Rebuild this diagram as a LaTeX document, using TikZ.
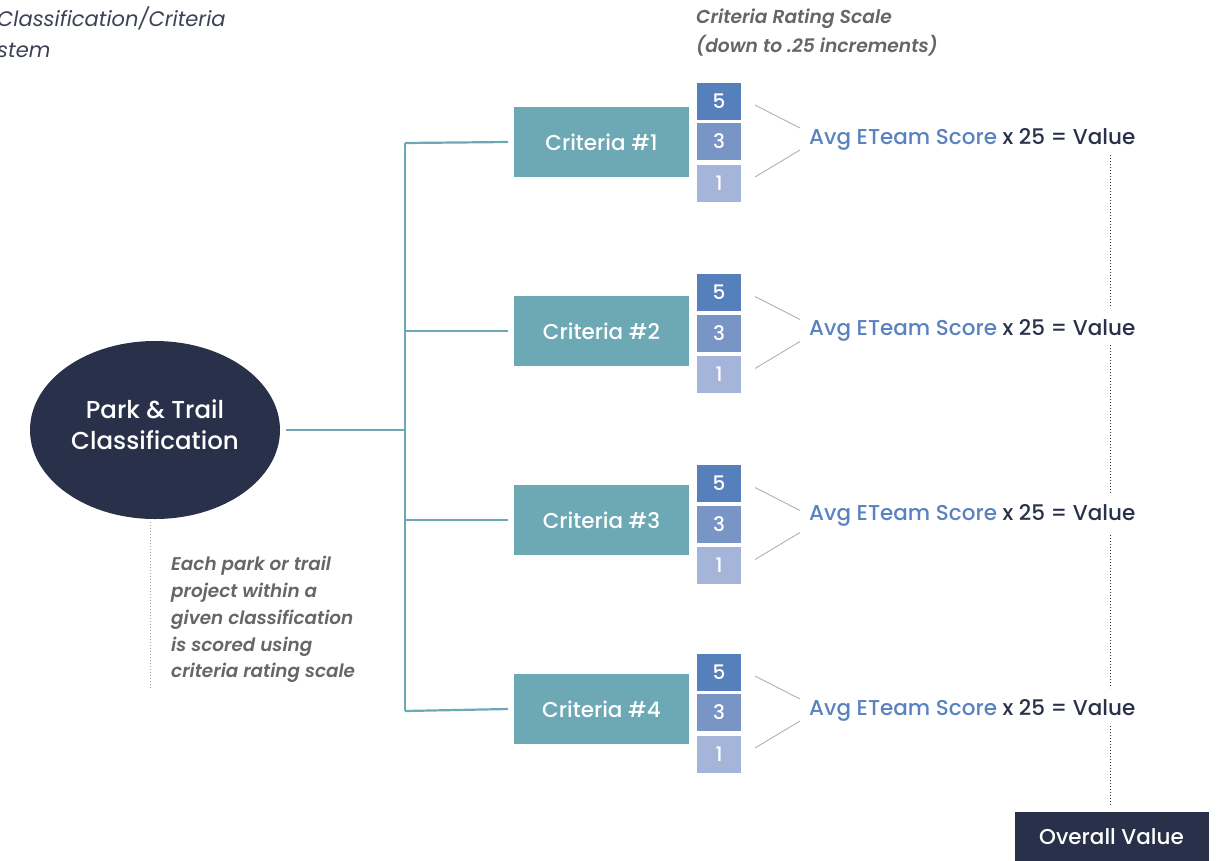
\documentclass[tikz,border=0pt]{standalone}
\usepackage{fontspec}
\setmainfont{Poppins}[UprightFont={* Medium}, ItalicFont={* Italic}, BoldFont={* SemiBold}, BoldItalicFont={* SemiBold Italic}]
\usetikzlibrary{shapes.geometric}
\definecolor{navy}{HTML}{283149}
\definecolor{teal}{HTML}{6DA8B5}
\definecolor{sfive}{HTML}{5580BB}
\definecolor{sthree}{HTML}{7895C6}
\definecolor{sone}{HTML}{A4B5D9}
\definecolor{avgblue}{HTML}{5A82BF}
\definecolor{note}{HTML}{666666}
\definecolor{titlegray}{HTML}{3C4256}
\definecolor{thin}{HTML}{A9B0BF}
\tikzset{
  branch/.style={draw=teal, line width=2.2pt},
  critbox/.style={fill=teal, minimum width=175pt, minimum height=70pt, text=white, font=\fontsize{21.5}{24}\selectfont, inner sep=0pt},
  sq/.style={minimum width=44pt, minimum height=37pt, inner sep=0pt, text=white, font=\fontsize{20}{22}\selectfont},
  feed/.style={draw=thin, line width=0.9pt},
  vdots/.style={draw=navy, line width=1pt, dotted},
  scoretext/.style={anchor=west, inner sep=0pt, font=\fontsize{21.5}{24}\selectfont},
  headtext/.style={anchor=west, inner sep=0pt, text=note, font=\fontsize{18.7}{20}\selectfont\bfseries\itshape},
}
\begin{document}
\begin{tikzpicture}[x=1pt,y=-1pt]
\useasboundingbox (0,0) rectangle (1224,860);

% page heading (runs off the left edge)
\node[anchor=west, inner sep=0pt, text=titlegray, font=\fontsize{21}{24}\selectfont\itshape] (head1) at (-3,18) {Classification/Criteria};
\node[anchor=west, inner sep=0pt, text=titlegray, font=\fontsize{21}{24}\selectfont\itshape] (head2) at (-3,50) {stem};

% rating scale heading
\node[headtext] (scale1) at (696,18.5) {Criteria Rating Scale};
\node[headtext] (scale2) at (696,45.5) {(down to .25 increments)};

% root classification
\node[ellipse, fill=navy, minimum width=250pt, minimum height=178pt, inner sep=0pt] (root) at (155,430) {};
\node[text=white, align=center, inner sep=0pt, font=\fontsize{24.5}{31}\selectfont] (rootlabel) at (155,425) {Park \& Trail\\Classification};

% note under the root
\coordinate (nt) at (150,522);
\coordinate (nb) at (150,688);
\draw[draw=gray!70, line width=1pt, dotted] (nt) -- (nb);
\node[anchor=north west, inner sep=0pt, text=note, align=left, font=\fontsize{18.4}{26.8}\selectfont\itshape\bfseries] (notetext) at (171,556) {Each park or trail\\project within a\\given classification\\is scored using\\criteria rating scale};

% trunk
\coordinate (jr) at (405,430);
\coordinate (t1) at (405,143);
\coordinate (t2) at (405,331);
\coordinate (t3) at (405,520);
\coordinate (t4) at (405,711);
\draw[branch] (root.east) ++(6,0) -- (jr);
\draw[branch] (t1) -- (t4);

% criteria rows
\foreach \i/\yc/\ys/\yt in {1/142/137/136, 2/331/328.5/327, 3/520/519.5/512, 4/709/708/707}{
  \node[critbox] (c\i) at (601.5,\yc) {Criteria \#\i};
  \draw[branch] (t\i) -- (c\i.west -| 508,0);
  \node[sq, fill=sfive]  (f\i) at (719,\ys-36) {5};
  \node[sq, fill=sthree] (h\i) at (719,\ys+4.5) {3};
  \node[sq, fill=sone]   (o\i) at (719,\ys+46) {1};
  \node[scoretext] (s\i) at (809,\yt+3) {\textcolor{avgblue}{Avg ETeam Score} \textcolor{navy}{x 25 = Value}};
  \coordinate (a\i) at (755,\ys-32);
  \coordinate (b\i) at (800,\ys-9);
  \coordinate (d\i) at (755,\ys+40);
  \coordinate (e\i) at (800,\ys+13);
  \draw[feed] (a\i) -- (b\i);
  \draw[feed] (d\i) -- (e\i);
}

% total
\node[fill=navy, minimum width=194pt, minimum height=50pt, inner sep=0pt, text=white, font=\fontsize{21.5}{24}\selectfont] (total) at (1111.5,837) {Overall Value};

% dotted links between values down to the total
\coordinate (v1) at (1110,155);
\coordinate (w1) at (1110,306);
\coordinate (v2) at (1110,345);
\coordinate (w2) at (1110,493);
\coordinate (v3) at (1110,535);
\coordinate (w3) at (1110,688);
\coordinate (v4) at (1110,726);
\coordinate (w4) at (1110,805);
\draw[vdots] (v1) -- (w1);
\draw[vdots] (v2) -- (w2);
\draw[vdots] (v3) -- (w3);
\draw[vdots] (v4) -- (w4);
\end{tikzpicture}
\end{document}
